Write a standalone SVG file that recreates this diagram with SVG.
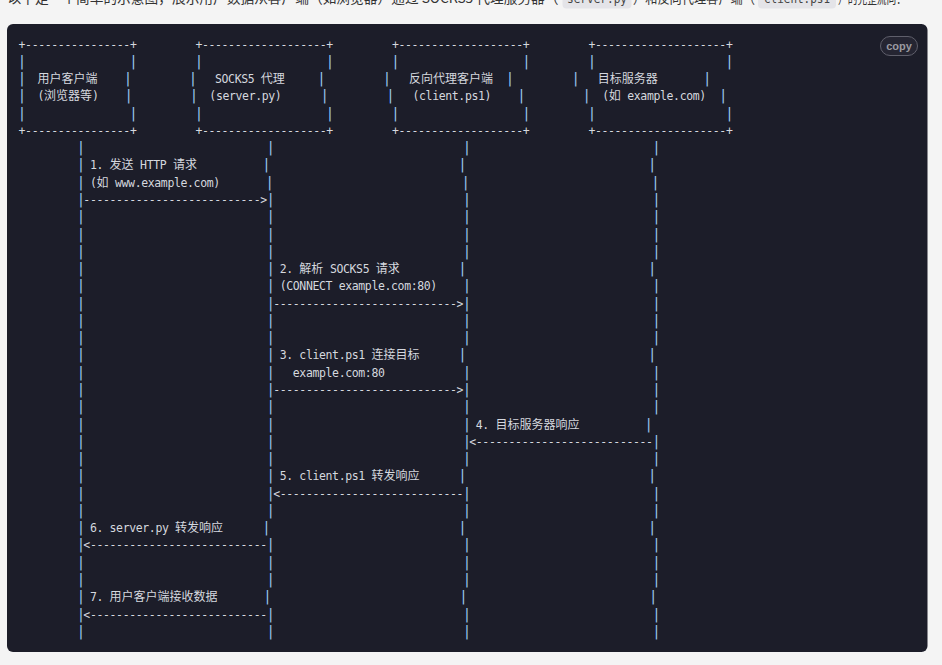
<svg xmlns="http://www.w3.org/2000/svg" width="942" height="665" viewBox="0 0 942 665" xml:space="preserve">
<style>
text{font-family:"DejaVu Sans Mono","Noto Sans CJK SC",monospace;font-size:11.5px;letter-spacing:-0.3736px;fill:#d5d8df;white-space:pre}
.c{font-family:"Noto Sans CJK SC",sans-serif;font-size:12px;letter-spacing:0px}
.b{font-size:14px;letter-spacing:-1.879px;fill:#9ac6ea}
.p{font-family:"Noto Sans CJK SC","Noto Sans",sans-serif;font-size:14px;letter-spacing:0px;fill:#333333}
.m{font-family:"DejaVu Sans Mono",monospace;font-size:12px;letter-spacing:0px;fill:#444444}
.cp{font-family:"Liberation Sans",Arial,sans-serif;font-size:11px;font-weight:bold;letter-spacing:0px;fill:#9a9aa0}
</style>
<rect x="0" y="0" width="942" height="665" fill="#f4f4f4"/>
<g id="intro">
<text class="p" x="7.5" y="2.8" textLength="551" lengthAdjust="spacingAndGlyphs">以下是一个简单的示意图，展示用户数据从客户端（如浏览器）通过 SOCKS5 代理服务器（</text>
<rect x="562.5" y="-10" width="69" height="18.5" rx="4" fill="#e4e4e8"/>
<text class="m" x="567" y="2.8" textLength="60" lengthAdjust="spacingAndGlyphs">server.py</text>
<text class="p" x="633" y="2.8" textLength="122" lengthAdjust="spacingAndGlyphs">）和反向代理客户端（</text>
<rect x="758" y="-10" width="78" height="18.5" rx="4" fill="#e4e4e8"/>
<text class="m" x="764" y="2.8" textLength="66" lengthAdjust="spacingAndGlyphs">client.ps1</text>
<text class="p" x="838" y="2.8" textLength="68" lengthAdjust="spacingAndGlyphs">）的完整流向：</text>
</g>
<rect id="code-block" x="7" y="24" width="920.5" height="628" rx="6" fill="#1c1d29"/>
<g id="copy-button">
<rect x="880.5" y="36.5" width="37" height="19" rx="9.5" fill="#252532" stroke="#5f5f6b" stroke-width="1"/>
<text class="cp" x="899" y="49.5" text-anchor="middle">copy</text>
</g>
<g id="node-user-client">
<text x="18.54" y="48.6">+----------------+</text>
<text y="65.87"><tspan class="b" x="17.79">|</tspan><tspan class="b" x="129.14">|</tspan></text>
<text y="83.14"><tspan class="b" x="17.79">|</tspan>  <tspan class="c">用户客户端</tspan><tspan class="b" x="123.79">|</tspan></text>
<text y="100.41"><tspan class="b" x="17.79">|</tspan>  (<tspan class="c">浏览器等</tspan>)<tspan class="b" x="124.39">|</tspan></text>
<text y="117.68"><tspan class="b" x="17.79">|</tspan><tspan class="b" x="129.14">|</tspan></text>
<text x="18.54" y="134.95">+----------------+</text>
</g>
<g id="node-socks5-proxy">
<text x="195.39" y="48.6">+-------------------+</text>
<text y="65.87"><tspan class="b" x="194.64">|</tspan><tspan class="b" x="325.64">|</tspan></text>
<text y="83.14"><tspan class="b" x="188.79">|</tspan>   SOCKS5 <tspan class="c">代理</tspan><tspan class="b" x="317.29">|</tspan></text>
<text y="100.41"><tspan class="b" x="189.69">|</tspan>  (server.py)<tspan class="b" x="320.49">|</tspan></text>
<text y="117.68"><tspan class="b" x="194.64">|</tspan><tspan class="b" x="325.64">|</tspan></text>
<text x="195.39" y="134.95">+-------------------+</text>
</g>
<g id="node-reverse-proxy-client">
<text x="391.89" y="48.6">+-------------------+</text>
<text y="65.87"><tspan class="b" x="391.14">|</tspan><tspan class="b" x="522.14">|</tspan></text>
<text y="83.14"><tspan class="b" x="382.79">|</tspan>   <tspan class="c">反向代理客户端</tspan><tspan class="b" x="505.79">|</tspan></text>
<text y="100.41"><tspan class="b" x="386.29">|</tspan>   (client.ps1)<tspan class="b" x="517.29">|</tspan></text>
<text y="117.68"><tspan class="b" x="391.14">|</tspan><tspan class="b" x="522.14">|</tspan></text>
<text x="391.89" y="134.95">+-------------------+</text>
</g>
<g id="node-target-server">
<text x="588.39" y="48.6">+--------------------+</text>
<text y="65.87"><tspan class="b" x="587.64">|</tspan><tspan class="b" x="725.19">|</tspan></text>
<text y="83.14"><tspan class="b" x="571.49">|</tspan>   <tspan class="c">目标服务器</tspan><tspan class="b" x="703.09">|</tspan></text>
<text y="100.41"><tspan class="b" x="582.49">|</tspan>  (<tspan class="c">如</tspan> example.com)<tspan class="b" x="719.09">|</tspan></text>
<text y="117.68"><tspan class="b" x="587.64">|</tspan><tspan class="b" x="725.19">|</tspan></text>
<text x="588.39" y="134.95">+--------------------+</text>
</g>
<g id="connectors">
<text y="152.22"><tspan class="b" x="76.79">|</tspan><tspan class="b" x="266.59">|</tspan><tspan class="b" x="462.69">|</tspan><tspan class="b" x="652.29">|</tspan></text>
<text y="169.49"><tspan class="b" x="76.79">|</tspan> 1. <tspan class="c">发送</tspan> HTTP <tspan class="c">请求</tspan><tspan class="b" x="262.19">|</tspan><tspan class="b" x="458.29">|</tspan><tspan class="b" x="647.89">|</tspan></text>
<text y="186.76"><tspan class="b" x="76.79">|</tspan> (<tspan class="c">如</tspan> www.example.com)<tspan class="b" x="265.49">|</tspan><tspan class="b" x="461.59">|</tspan><tspan class="b" x="651.19">|</tspan></text>
<text y="204.03"><tspan class="b" x="76.79">|</tspan>---------------------------&gt;<tspan class="b" x="266.59">|</tspan><tspan class="b" x="462.69">|</tspan><tspan class="b" x="652.29">|</tspan></text>
<text y="221.3"><tspan class="b" x="76.79">|</tspan><tspan class="b" x="266.59">|</tspan><tspan class="b" x="462.69">|</tspan><tspan class="b" x="652.29">|</tspan></text>
<text y="238.57"><tspan class="b" x="76.79">|</tspan><tspan class="b" x="266.59">|</tspan><tspan class="b" x="462.69">|</tspan><tspan class="b" x="652.29">|</tspan></text>
<text y="255.84"><tspan class="b" x="76.79">|</tspan><tspan class="b" x="266.59">|</tspan><tspan class="b" x="462.69">|</tspan><tspan class="b" x="652.29">|</tspan></text>
<text y="273.11"><tspan class="b" x="76.79">|</tspan><tspan class="b" x="266.59">|</tspan> 2. <tspan class="c">解析</tspan> SOCKS5 <tspan class="c">请求</tspan><tspan class="b" x="458.29">|</tspan><tspan class="b" x="647.89">|</tspan></text>
<text y="290.38"><tspan class="b" x="76.79">|</tspan><tspan class="b" x="266.59">|</tspan> (CONNECT example.com:80)<tspan class="b" x="462.69">|</tspan><tspan class="b" x="652.29">|</tspan></text>
<text y="307.65"><tspan class="b" x="76.79">|</tspan><tspan class="b" x="266.59">|</tspan>----------------------------&gt;<tspan class="b" x="462.69">|</tspan><tspan class="b" x="652.29">|</tspan></text>
<text y="324.92"><tspan class="b" x="76.79">|</tspan><tspan class="b" x="266.59">|</tspan><tspan class="b" x="462.69">|</tspan><tspan class="b" x="652.29">|</tspan></text>
<text y="342.19"><tspan class="b" x="76.79">|</tspan><tspan class="b" x="266.59">|</tspan><tspan class="b" x="462.69">|</tspan><tspan class="b" x="652.29">|</tspan></text>
<text y="359.46"><tspan class="b" x="76.79">|</tspan><tspan class="b" x="266.59">|</tspan> 3. client.ps1 <tspan class="c">连接目标</tspan><tspan class="b" x="458.29">|</tspan><tspan class="b" x="647.89">|</tspan></text>
<text y="376.73"><tspan class="b" x="76.79">|</tspan><tspan class="b" x="266.59">|</tspan>   example.com:80<tspan class="b" x="462.69">|</tspan><tspan class="b" x="652.29">|</tspan></text>
<text y="394"><tspan class="b" x="76.79">|</tspan><tspan class="b" x="266.59">|</tspan>----------------------------&gt;<tspan class="b" x="462.69">|</tspan><tspan class="b" x="652.29">|</tspan></text>
<text y="411.27"><tspan class="b" x="76.79">|</tspan><tspan class="b" x="266.59">|</tspan><tspan class="b" x="462.69">|</tspan><tspan class="b" x="652.29">|</tspan></text>
<text y="428.54"><tspan class="b" x="76.79">|</tspan><tspan class="b" x="266.59">|</tspan><tspan class="b" x="462.69">|</tspan> 4. <tspan class="c">目标服务器响应</tspan><tspan class="b" x="644.59">|</tspan></text>
<text y="445.81"><tspan class="b" x="76.79">|</tspan><tspan class="b" x="266.59">|</tspan><tspan class="b" x="462.69">|</tspan>&lt;---------------------------<tspan class="b" x="652.29">|</tspan></text>
<text y="463.08"><tspan class="b" x="76.79">|</tspan><tspan class="b" x="266.59">|</tspan><tspan class="b" x="462.69">|</tspan><tspan class="b" x="652.29">|</tspan></text>
<text y="480.35"><tspan class="b" x="76.79">|</tspan><tspan class="b" x="266.59">|</tspan> 5. client.ps1 <tspan class="c">转发响应</tspan><tspan class="b" x="458.29">|</tspan><tspan class="b" x="647.89">|</tspan></text>
<text y="497.62"><tspan class="b" x="76.79">|</tspan><tspan class="b" x="266.59">|</tspan>&lt;----------------------------<tspan class="b" x="462.69">|</tspan><tspan class="b" x="652.29">|</tspan></text>
<text y="514.89"><tspan class="b" x="76.79">|</tspan><tspan class="b" x="266.59">|</tspan><tspan class="b" x="462.69">|</tspan><tspan class="b" x="652.29">|</tspan></text>
<text y="532.16"><tspan class="b" x="76.79">|</tspan> 6. server.py <tspan class="c">转发响应</tspan><tspan class="b" x="262.19">|</tspan><tspan class="b" x="458.29">|</tspan><tspan class="b" x="647.89">|</tspan></text>
<text y="549.43"><tspan class="b" x="76.79">|</tspan>&lt;---------------------------<tspan class="b" x="266.59">|</tspan><tspan class="b" x="462.69">|</tspan><tspan class="b" x="652.29">|</tspan></text>
<text y="566.7"><tspan class="b" x="76.79">|</tspan><tspan class="b" x="266.59">|</tspan><tspan class="b" x="462.69">|</tspan><tspan class="b" x="652.29">|</tspan></text>
<text y="583.97"><tspan class="b" x="76.79">|</tspan><tspan class="b" x="266.59">|</tspan><tspan class="b" x="462.69">|</tspan><tspan class="b" x="652.29">|</tspan></text>
<text y="601.24"><tspan class="b" x="76.79">|</tspan> 7. <tspan class="c">用户客户端接收数据</tspan><tspan class="b" x="263.24">|</tspan><tspan class="b" x="459.34">|</tspan><tspan class="b" x="648.94">|</tspan></text>
<text y="618.51"><tspan class="b" x="76.79">|</tspan>&lt;---------------------------<tspan class="b" x="266.59">|</tspan><tspan class="b" x="462.69">|</tspan><tspan class="b" x="652.29">|</tspan></text>
<text y="635.78"><tspan class="b" x="76.79">|</tspan><tspan class="b" x="266.59">|</tspan><tspan class="b" x="462.69">|</tspan><tspan class="b" x="652.29">|</tspan></text>
</g>
</svg>
